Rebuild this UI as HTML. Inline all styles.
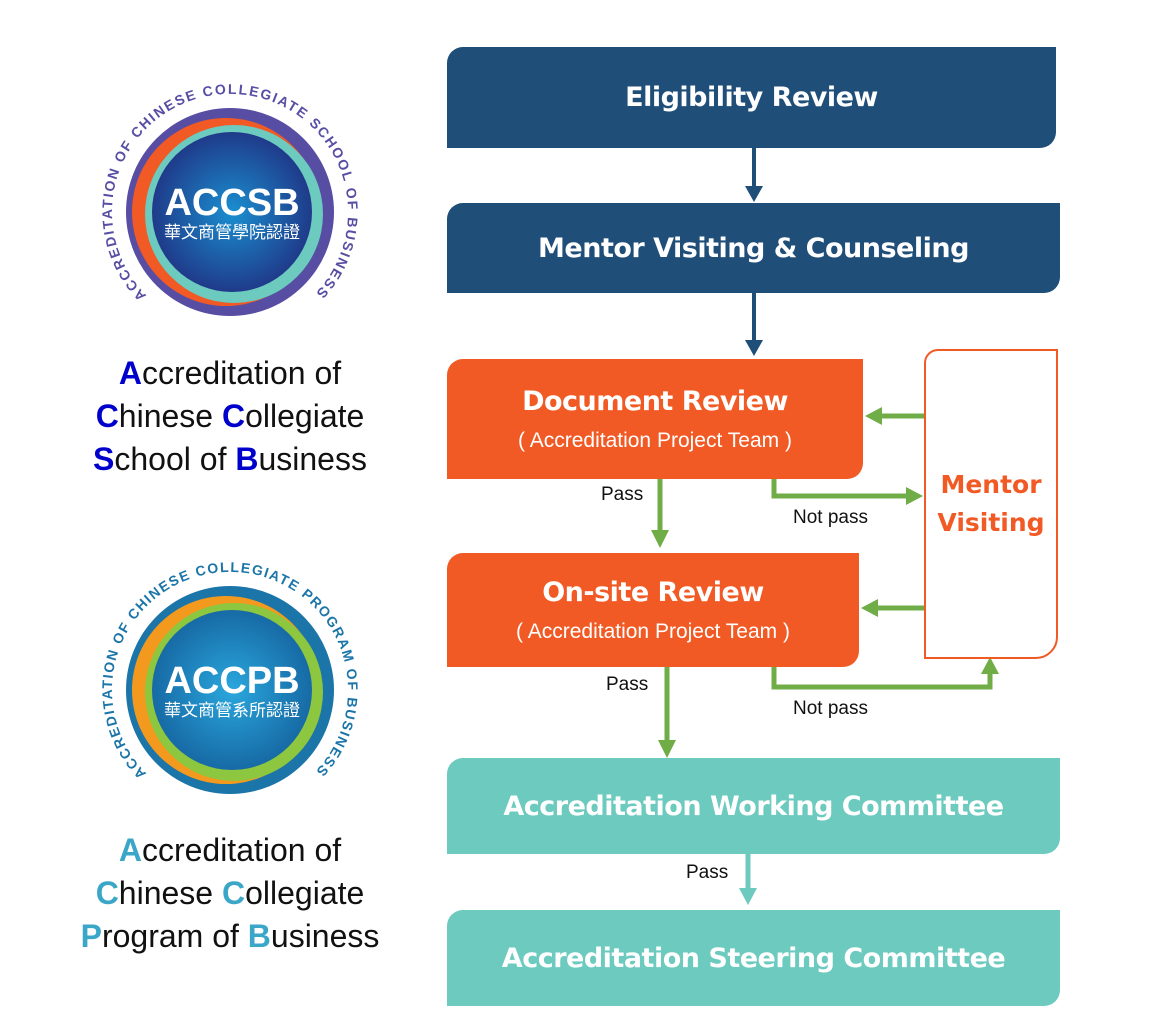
<!DOCTYPE html>
<html><head><meta charset="utf-8"><style>
body{margin:0;width:1163px;height:1035px;background:#fff;position:relative;overflow:hidden;font-family:"Liberation Sans","Noto Sans CJK TC",sans-serif}
.b{position:absolute;color:#fff;font-weight:bold;text-align:center;display:flex;flex-direction:column;justify-content:center;align-items:center;border-radius:16px 0 16px 0;font-family:"DejaVu Sans","Liberation Sans",sans-serif}
.nav{background:#1f4e79;font-size:27px;letter-spacing:-0.5px}
.or{background:#f15a24}
.tl{background:#6ccabf;font-size:27px;letter-spacing:-0.5px}
.sub{font-weight:normal;font-size:21px;margin-top:12px;font-family:"Liberation Sans",sans-serif}
.lab{position:absolute;font-size:19px;color:#111}
.cap{position:absolute;left:50px;width:360px;text-align:center;font-size:32px;line-height:43px;color:#111}
</style></head><body>
<svg width="1163" height="1035" style="position:absolute;left:0;top:0">
<defs>
<radialGradient id="g1" cx="50%" cy="50%" r="50%"><stop offset="0" stop-color="#1a8fd0"/><stop offset="1" stop-color="#1f3b8a"/></radialGradient>
<radialGradient id="g2" cx="50%" cy="50%" r="50%"><stop offset="0" stop-color="#2aa7dd"/><stop offset="1" stop-color="#176aa5"/></radialGradient>
<path id="p1" d="M146.6,295.4 A118,118 0 1 1 313.4,295.4"/>
<path id="p2" d="M146.6,773.4 A118,118 0 1 1 313.4,773.4"/>
</defs>
<circle cx="230" cy="212" r="104" fill="#574ea3"/>
<circle cx="226" cy="212" r="94" fill="#f15a24"/>
<circle cx="234" cy="214" r="89" fill="#6ccabf"/>
<circle cx="232" cy="212" r="80" fill="url(#g1)"/>
<text font-family="Liberation Sans" font-weight="bold" font-size="14" fill="#574ea3"><textPath href="#p1" textLength="552" lengthAdjust="spacing">ACCREDITATION OF CHINESE COLLEGIATE SCHOOL OF BUSINESS</textPath></text>
<text x="232" y="215" text-anchor="middle" font-family="Liberation Sans" font-weight="bold" font-size="38" fill="#fff">ACCSB</text>
<text x="232" y="238" text-anchor="middle" font-family="Noto Sans CJK TC" font-size="17" fill="#fff">華文商管學院認證</text>
<circle cx="230" cy="690" r="104" fill="#1b75a8"/>
<circle cx="226" cy="690" r="94" fill="#f39a1e"/>
<circle cx="234" cy="692" r="89" fill="#8dc63f"/>
<circle cx="232" cy="690" r="80" fill="url(#g2)"/>
<text font-family="Liberation Sans" font-weight="bold" font-size="14" fill="#1b75a8"><textPath href="#p2" textLength="552" lengthAdjust="spacing">ACCREDITATION OF CHINESE COLLEGIATE PROGRAM OF BUSINESS</textPath></text>
<text x="232" y="693" text-anchor="middle" font-family="Liberation Sans" font-weight="bold" font-size="38" fill="#fff">ACCPB</text>
<text x="232" y="716" text-anchor="middle" font-family="Noto Sans CJK TC" font-size="17" fill="#fff">華文商管系所認證</text>
<g stroke="#1f4e79" stroke-width="4" fill="none"><line x1="754" y1="148" x2="754" y2="188"/><line x1="754" y1="293" x2="754" y2="342"/></g>
<polygon points="745,186 763,186 754,202" fill="#1f4e79"/>
<polygon points="745,340 763,340 754,356" fill="#1f4e79"/>
<g stroke="#70ad47" stroke-width="5" fill="none">
<line x1="660" y1="479" x2="660" y2="532"/>
<line x1="667" y1="667" x2="667" y2="742"/>
<polyline points="774,479 774,496 908,496"/>
<polyline points="774,667 774,687 990,687 990,672"/>
<line x1="924" y1="416" x2="880" y2="416"/>
<line x1="924" y1="608" x2="876" y2="608"/>
</g>
<g fill="#70ad47">
<polygon points="651,530 669,530 660,548"/>
<polygon points="658,740 676,740 667,758"/>
<polygon points="906,487 906,505 923,496"/>
<polygon points="981,674 999,674 990,657"/>
<polygon points="882,407 882,425 865,416"/>
<polygon points="878,599 878,617 861,608"/>
</g>
<line x1="748" y1="854" x2="748" y2="890" stroke="#6ccabf" stroke-width="5"/>
<polygon points="739,888 757,888 748,905" fill="#6ccabf"/>
</svg>
<div class="b nav" style="left:447px;top:47px;width:609px;height:101px">Eligibility Review</div>
<div class="b nav" style="left:447px;top:203px;width:613px;height:90px">Mentor Visiting &amp; Counseling</div>
<div class="b or" style="left:447px;top:359px;width:416px;height:120px"><div style="font-size:27px;letter-spacing:-0.5px">Document Review</div><div class="sub">( Accreditation Project Team )</div></div>
<div class="b or" style="left:447px;top:553px;width:412px;height:114px"><div style="font-size:27px;letter-spacing:-0.5px">On-site Review</div><div class="sub">( Accreditation Project Team )</div></div>
<div class="b" style="left:924px;top:349px;width:130px;height:306px;border:2px solid #f15a24;background:#fff;color:#f15a24;font-size:25px;line-height:38px;border-radius:14px 0 22px 0">Mentor<br>Visiting</div>
<div class="b tl" style="left:447px;top:758px;width:613px;height:96px">Accreditation Working Committee</div>
<div class="b tl" style="left:447px;top:910px;width:613px;height:96px">Accreditation Steering Committee</div>
<div class="lab" style="left:601px;top:484px">Pass</div>
<div class="lab" style="left:606px;top:674px">Pass</div>
<div class="lab" style="left:793px;top:507px">Not pass</div>
<div class="lab" style="left:793px;top:698px">Not pass</div>
<div class="lab" style="left:686px;top:862px">Pass</div>
<div class="cap" style="top:352px"><b style="color:#0000cc">A</b>ccreditation of<br><b style="color:#0000cc">C</b>hinese <b style="color:#0000cc">C</b>ollegiate<br><b style="color:#0000cc">S</b>chool of <b style="color:#0000cc">B</b>usiness</div>
<div class="cap" style="top:829px"><b style="color:#3aa6c8">A</b>ccreditation of<br><b style="color:#3aa6c8">C</b>hinese <b style="color:#3aa6c8">C</b>ollegiate<br><b style="color:#3aa6c8">P</b>rogram of <b style="color:#3aa6c8">B</b>usiness</div>
</body></html>
